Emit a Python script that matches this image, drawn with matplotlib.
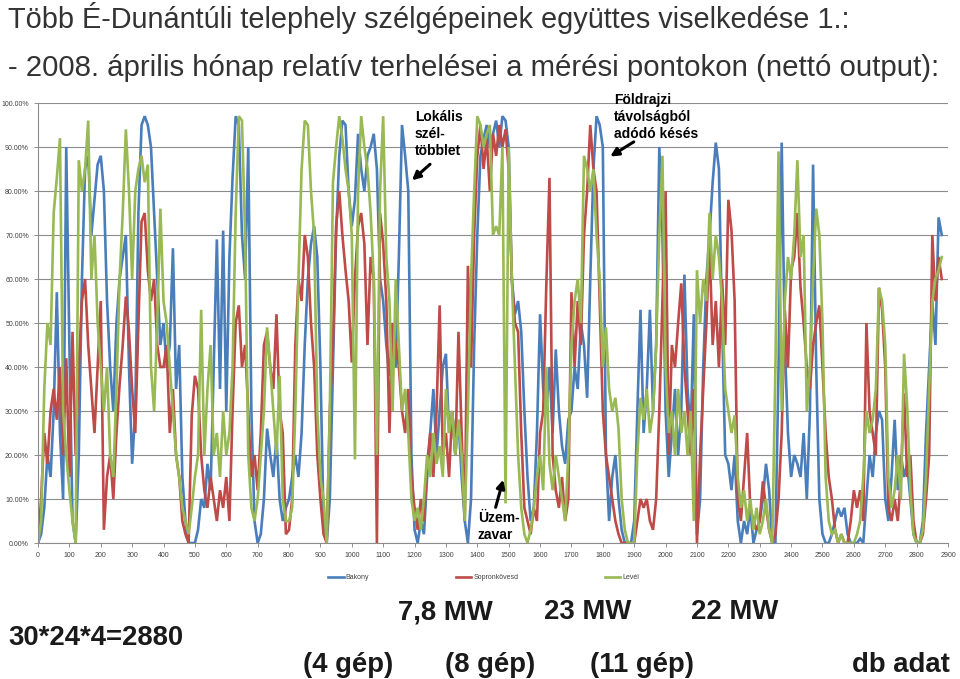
import numpy as np
import matplotlib
matplotlib.use("Agg")
import matplotlib.pyplot as plt

plt.rcParams['font.family'] = ['Liberation Sans', 'DejaVu Sans']

step = 10  # measurement index spacing of the values below

bakony = [
    0, 2, 8, 20, 15, 30, 57, 25, 10, 90,
    45, 5, 0, 20, 60, 85, 88, 70, 78, 86,
    88, 80, 55, 40, 30, 50, 60, 65, 70, 40,
    18, 30, 75, 95, 97, 95, 90, 75, 60, 45,
    50, 40, 45, 67, 35, 45, 15, 5, 0, 0,
    0, 3, 10, 8, 18, 12, 40, 69, 35, 71,
    30, 65, 83, 97, 95, 70, 60, 90, 30, 5,
    0, 2, 10, 26, 20, 15, 24, 10, 5, 8,
    10, 15, 20, 15, 25, 45, 60, 68, 72, 65,
    40, 5, 0, 10, 40, 70, 88, 96, 95, 80,
    72, 78, 93, 85, 80, 88, 90, 93, 85, 60,
    55, 45, 38, 50, 40, 65, 95, 88, 80, 20,
    3, 0, 5, 2, 15, 25, 35, 20, 30, 40,
    43, 25, 30, 20, 28, 15, 5, 0, 10, 45,
    70, 88, 92, 95, 90, 93, 96, 90, 97, 96,
    90, 60, 52, 55, 48, 30, 15, 5, 8, 25,
    52, 35, 30, 40, 25, 44, 30, 22, 18, 28,
    30, 40, 35, 50, 45, 33, 60, 85, 97, 95,
    90, 20, 5, 15, 20, 10, 3, 0, 0, 0,
    5, 30, 53, 25, 35, 53, 30, 45, 90, 70,
    30, 15, 25, 35, 20, 30, 61, 35, 25, 52,
    2, 10, 40, 60, 70, 82, 91, 85, 50, 20,
    18, 12, 20, 5, 0, 5, 2, 8, 0, 3,
    5, 10, 18, 12, 0, 0, 40, 91, 45, 25,
    15, 20, 18, 15, 25, 10, 30, 86, 40, 10,
    2, 0, 0, 2, 5, 8, 6, 8, 2, 0,
    0, 0, 1, 0, 10, 20, 15, 25, 30, 28,
    10, 5, 15, 28, 12, 20, 15, 18, 10, 2,
    0, 0, 5, 25, 40, 55, 45, 74, 70,
]

sopronkovesd = [
    0, 10, 25, 18, 30, 35, 28, 40, 20, 42,
    15, 48, 20, 40, 55, 60, 45, 35, 25, 40,
    55, 3, 15, 20, 10, 25, 36, 45, 56, 48,
    35, 25, 50, 73, 75, 62, 55, 60, 45, 40,
    40, 45, 25, 35, 20, 15, 5, 2, 0, 29,
    38, 35, 20, 12, 8, 15, 10, 5, 12, 8,
    15, 5, 30, 50, 54, 40, 45, 30, 15, 20,
    12, 25, 45, 48, 40, 35, 52, 30, 25, 2,
    3, 10, 45, 60, 55, 70, 65, 50, 40, 20,
    10, 2, 0, 30, 45, 72, 80, 70, 62, 55,
    41, 60, 72, 75, 68, 45, 65, 60, 0, 75,
    68, 55, 25, 50, 45, 40, 30, 25, 35, 15,
    8, 3, 10, 5, 18, 25, 15, 30, 54, 20,
    25, 15, 30, 20, 48, 25, 5, 63, 40, 70,
    88, 95, 85, 92, 80, 93, 88, 95, 90, 94,
    85, 60, 50, 48, 25, 8, 5, 2, 8, 5,
    25, 30, 59, 83, 20, 12, 8, 15, 5, 10,
    57, 40, 55, 45, 70, 80, 95, 85, 80, 55,
    30, 20, 15, 10, 5, 2, 0, 0, 0, 0,
    0, 5, 10, 8, 10, 5, 3, 10, 30, 55,
    80, 20, 45, 40, 50, 59, 40, 30, 20, 35,
    0, 20, 35, 50, 68, 45, 55, 40, 60, 45,
    78, 71, 55, 10, 5, 15, 25, 8, 5, 3,
    5, 14, 8, 3, 0, 2, 10, 25, 53, 40,
    62, 65, 75, 58, 50, 40, 35, 45, 50, 54,
    40, 25, 15, 10, 3, 0, 2, 0, 0, 5,
    12, 8, 12, 5, 50, 30, 25, 20, 58, 53,
    40, 8, 5, 10, 5, 15, 34, 15, 20, 5,
    0, 0, 2, 10, 20, 70, 55, 65, 60,
]

level = [
    0, 5, 35, 50, 45, 75, 83, 92, 30, 20,
    12, 5, 0, 87, 80, 85, 96, 60, 70, 50,
    40, 30, 40, 20, 15, 35, 60, 75, 94, 80,
    60, 80, 85, 88, 82, 86, 40, 30, 50, 76,
    55, 50, 40, 30, 20, 15, 8, 5, 2, 8,
    15, 20, 53, 20, 35, 45, 20, 25, 15, 30,
    20, 25, 40, 75, 97, 96, 70, 20, 8, 5,
    10, 20, 30, 49, 40, 30, 20, 38, 10, 5,
    5, 8, 30, 60, 85, 96, 95, 80, 70, 30,
    15, 10, 0, 30, 82, 90, 97, 92, 85, 80,
    70, 19, 80, 97, 90, 85, 75, 60, 20, 80,
    97, 65, 55, 30, 60, 45, 30, 35, 25, 10,
    5, 8, 3, 10, 20, 15, 25, 18, 22, 15,
    35, 25, 30, 20, 28, 20, 5, 30, 60, 80,
    97, 95, 90, 93, 95, 70, 72, 70, 90, 9,
    90, 60, 40, 20, 8, 2, 0, 3, 8, 15,
    20, 12, 40, 18, 12, 20, 15, 10, 5, 20,
    45, 55, 60, 50, 88, 85, 80, 85, 70, 60,
    40, 49, 35, 30, 33, 26, 10, 3, 0, 0,
    0, 20, 33, 28, 35, 25, 30, 45, 70, 88,
    40, 25, 30, 20, 35, 25, 30, 20, 30, 5,
    62, 50, 60, 55, 75, 60, 70, 65, 55, 35,
    30, 25, 29, 15, 8, 12, 5, 10, 3, 8,
    2, 5, 10, 3, 0, 40, 89, 30, 55, 65,
    60, 70, 87, 65, 70, 30, 40, 60, 76, 70,
    50, 15, 5, 2, 3, 0, 2, 0, 0, 0,
    0, 2, 5, 15, 30, 25, 28, 35, 58, 55,
    45, 15, 8, 12, 20, 10, 43, 31, 12, 2,
    0, 0, 3, 15, 35, 55, 60, 62, 65,
]

series_names = ["Bakony", "Sopronkövesd", "Levél"]
series_colors = ["#4a7ebb", "#be4b48", "#98b954"]

y_ticks = np.arange(0, 101, 10)
x_ticks = np.arange(0, 2901, 100)

fig = plt.figure(figsize=(9.6, 6.79), dpi=100)
ax = fig.add_axes([38/960, 1-543/679, (948-38)/960, (543-103)/679])

for vals, name, col in zip([bakony, sopronkovesd, level], series_names, series_colors):
    x = np.arange(len(vals)) * step
    ax.plot(x, vals, color=col, lw=1.9, label=name, solid_joinstyle='miter')

ax.set_xlim(0, 2900)
ax.set_ylim(0, 100)
ax.set_yticks(y_ticks)
ax.set_yticklabels([f"{v:.2f}%" for v in y_ticks])
ax.set_xticks(x_ticks)
ax.set_xticklabels([str(v) for v in x_ticks])
ax.tick_params(axis='both', labelsize=5, colors='#7f7f7f', labelcolor='#404040',
               length=3, width=0.6)
ax.grid(axis='y', color='#8c8c8c', lw=0.8)
ax.set_axisbelow(True)
for s in ['top', 'right']:
    ax.spines[s].set_visible(False)
for s in ['left', 'bottom']:
    ax.spines[s].set_color('#8c8c8c')
    ax.spines[s].set_linewidth(0.8)

leg = ax.legend(loc='upper center', bbox_to_anchor=(0.49, -0.057), ncol=3,
                frameon=False, fontsize=5, handlelength=2.2, columnspacing=12.5,
                handletextpad=0.3)
for t in leg.get_texts():
    t.set_color('#404040')

# titles
fig.text(8/960, 1-18/679, "Több É-Dunántúli telephely szélgépeinek együttes viselkedése 1.:",
         fontsize=20.8, color='#333333', va='center', ha='left')
fig.text(8/960, 1-68/679, "- 2008. április hónap relatív terhelései a mérési pontokon (nettó output):",
         fontsize=21.2, color='#333333', va='center', ha='left')

# annotations
ann_font = ['Liberation Sans Narrow', 'Liberation Sans', 'DejaVu Sans']
arrow = dict(arrowstyle='-|>', color='black', lw=2.2, mutation_scale=12)
ax.annotate("", xy=(1185, 82), xytext=(1256, 86.5), arrowprops=arrow)
ax.text(1201, 98.5, "Lokális\nszél-\ntöbblet", fontsize=10, fontweight='bold',
        family=ann_font, va='top', ha='left', linespacing=1.3)
ax.annotate("", xy=(1816, 87.5), xytext=(1906, 91.5), arrowprops=arrow,
            annotation_clip=False)
ax.text(1835, 102.3, "Földrajzi\ntávolságból\nadódó késés", fontsize=10, fontweight='bold',
        family=ann_font, va='top', ha='left', linespacing=1.3, clip_on=False)
ax.annotate("", xy=(1485, 15), xytext=(1456, 7.5), arrowprops=arrow)
ax.text(1402, 7.3, "Üzem-\nzavar", fontsize=10, fontweight='bold',
        family=ann_font, va='top', ha='left', linespacing=1.3)

# bottom texts
bold = dict(fontsize=19.8, fontweight='bold', color='#1a1a1a', va='center')
fig.text(445/960, 1-612/679, "7,8 MW", ha='center', **bold)
fig.text(588/960, 1-612/679, "23 MW", ha='center', **bold)
fig.text(735/960, 1-612/679, "22 MW", ha='center', **bold)
fig.text(8/960, 1-638/679, "30*24*4=2880", ha='left', **bold)
fig.text(348/960, 1-665/679, "(4 gép)", ha='center', **bold)
fig.text(490/960, 1-665/679, "(8 gép)", ha='center', **bold)
fig.text(642/960, 1-665/679, "(11 gép)", ha='center', **bold)
fig.text(950/960, 1-665/679, "db adat", ha='right', **bold)

fig.savefig("out.png", dpi=100)
